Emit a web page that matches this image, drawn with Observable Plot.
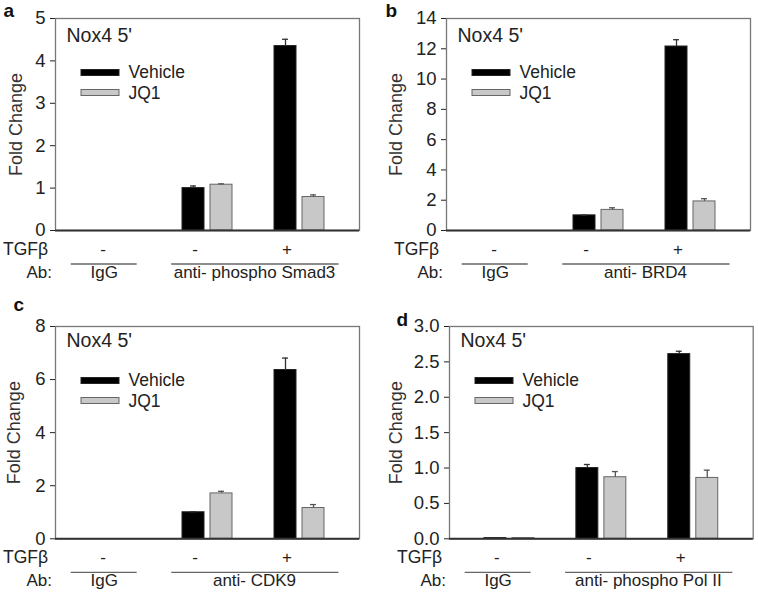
<!DOCTYPE html>
<html><head><meta charset="utf-8">
<script src="https://cdn.jsdelivr.net/npm/d3@7"></script>
<script src="https://cdn.jsdelivr.net/npm/@observablehq/plot@0.6"></script>
<style>
body{margin:0;background:#fff;}
#wrap{position:relative;width:758px;height:595px;overflow:hidden;background:#fff;}
#wrap > svg{position:absolute;}
</style></head><body><div id="wrap"></div>
<script>
// ---- data ----
const groups = ["IgG", "Ab TGF-", "Ab TGF+"];
const tgfSigns = ["-", "-", "+"];
const seriesNames = ["Vehicle", "JQ1"];
const titleText = "Nox4 5'";
const yLabel = "Fold Change";
const rowLabels = ["TGFβ", "Ab:"];

const abA = ["IgG", "anti- phospho Smad3"];
const abB = ["IgG", "anti- BRD4"];
const abC = ["IgG", "anti- CDK9"];
const abD = ["IgG", "anti- phospho Pol II"];

const vehicleA = [0, 1.00, 4.35];
const vehicleErrA = [0, 0.05, 0.16];
const jq1A = [0, 1.08, 0.79];
const jq1ErrA = [0, 0.02, 0.05];

const vehicleB = [0, 1.00, 12.15];
const vehicleErrB = [0, 0.02, 0.45];
const jq1B = [0, 1.36, 1.92];
const jq1ErrB = [0, 0.14, 0.18];

const vehicleC = [0, 1.00, 6.36];
const vehicleErrC = [0, 0.02, 0.45];
const jq1C = [0, 1.71, 1.16];
const jq1ErrC = [0, 0.08, 0.13];

const vehicleD = [0.01, 1.00, 2.61];
const vehicleErrD = [0, 0.05, 0.04];
const jq1D = [0.01, 0.87, 0.86];
const jq1ErrD = [0, 0.08, 0.11];

const yTicksA = [0, 1, 2, 3, 4, 5];
const yTicksB = [0, 2, 4, 6, 8, 10, 12, 14];
const yTicksC = [0, 2, 4, 6, 8];
const yTicksD = [0, 0.5, 1.0, 1.5, 2.0, 2.5, 3.0];

// ---- layout ----
const FONT = '"Liberation Sans", Arial, sans-serif';
const panels = [
  {letter: "a", ab: abA, veh: vehicleA, vehErr: vehicleErrA, jq: jq1A, jqErr: jq1ErrA, ticks: yTicksA, fmt: d3.format("d"),
   left: 0, top: 0, width: 379, height: 300, mL: 55, mR: 20, mT: 18, mB: 70, lx: 3, ly: 16, labDx: -39, titleDy: 23},
  {letter: "b", ab: abB, veh: vehicleB, vehErr: vehicleErrB, jq: jq1B, jqErr: jq1ErrB, ticks: yTicksB, fmt: d3.format("d"),
   left: 379, top: 0, width: 379, height: 300, mL: 67, mR: 8, mT: 18, mB: 70, lx: 6, ly: 16, labDx: -50, titleDy: 23},
  {letter: "c", ab: abC, veh: vehicleC, vehErr: vehicleErrC, jq: jq1C, jqErr: jq1ErrC, ticks: yTicksC, fmt: d3.format("d"),
   left: 0, top: 300, width: 379, height: 295, mL: 55, mR: 20, mT: 26, mB: 56.7, lx: 13, ly: 10, labDx: -41, titleDy: 20},
  {letter: "d", ab: abD, veh: vehicleD, vehErr: vehicleErrD, jq: jq1D, jqErr: jq1ErrD, ticks: yTicksD, fmt: d3.format(".1f"),
   left: 379, top: 300, width: 379, height: 295, mL: 70, mR: 5.3, mT: 26, mB: 56.7, lx: 17, ly: 25, labDx: -53.5, titleDy: 20}
];

function legendMark(cfg) {
  return () => {
    const g = d3.create("svg:g").attr("text-anchor", "start");
    const sx = cfg.mL + 26, sy = cfg.mT + 51.5;
    g.append("rect").attr("x", sx).attr("y", sy).attr("width", 38).attr("height", 6)
      .attr("fill", "#000").attr("stroke", "#222");
    g.append("rect").attr("x", sx).attr("y", sy + 20).attr("width", 38).attr("height", 6)
      .attr("fill", "#c8c8c8").attr("stroke", "#666");
    g.append("text").attr("x", cfg.mL + 73.5).attr("y", cfg.mT + 60).text(seriesNames[0])
      .attr("font-size", 17.5).attr("fill", "#222");
    g.append("text").attr("x", cfg.mL + 73.5).attr("y", cfg.mT + 80.5).text(seriesNames[1])
      .attr("font-size", 17.5).attr("fill", "#222");
    return g.node();
  };
}

const wrap = document.getElementById("wrap");
for (const cfg of panels) {
  const veh = groups.map((g, i) => ({group: g, value: cfg.veh[i], err: cfg.vehErr[i]}));
  const jq = groups.map((g, i) => ({group: g, value: cfg.jq[i], err: cfg.jqErr[i]}));
  const signs = groups.map((g, i) => ({group: g, sign: tgfSigns[i]}));
  const abRows = [{group: groups[0], label: cfg.ab[0]}, {group: groups[1], label: cfg.ab[1]}];
  const ymax = cfg.ticks[cfg.ticks.length - 1];

  const chart = Plot.plot({
    width: cfg.width, height: cfg.height,
    marginLeft: cfg.mL, marginRight: cfg.mR, marginTop: cfg.mT, marginBottom: cfg.mB,
    style: {fontFamily: FONT, fontSize: "18.5px", color: "#222", background: "transparent", overflow: "visible"},
    x: {type: "band", domain: groups, paddingInner: 0.4565, paddingOuter: 0.3804, round: false, axis: null},
    y: {domain: [0, ymax], ticks: cfg.ticks, tickFormat: cfg.fmt, tickSize: 5, tickPadding: 5, label: null},
    marks: [
      Plot.frame({stroke: "#777", strokeWidth: 1.3}),
      Plot.barY(veh, {x: "group", y: "value", fill: "#000", stroke: "#222", strokeWidth: 1, insetRight: 28}),
      Plot.barY(jq, {x: "group", y: "value", fill: "#c8c8c8", stroke: "#666", strokeWidth: 1, insetLeft: 28}),
      Plot.ruleX(veh.filter(d => d.err > 0), {x: "group", y1: "value", y2: d => d.value + d.err, dx: -14, stroke: "#333", strokeWidth: 1.3}),
      Plot.tickY(veh.filter(d => d.err > 0), {x: "group", y: d => d.value + d.err, insetLeft: 8, insetRight: 36, stroke: "#333", strokeWidth: 1.3}),
      Plot.ruleX(jq.filter(d => d.err > 0), {x: "group", y1: "value", y2: d => d.value + d.err, dx: 14, stroke: "#555", strokeWidth: 1.3}),
      Plot.tickY(jq.filter(d => d.err > 0), {x: "group", y: d => d.value + d.err, insetLeft: 36, insetRight: 8, stroke: "#555", strokeWidth: 1.3}),
      Plot.ruleY([0], {stroke: "#333", strokeWidth: 2}),
      Plot.text([titleText], {text: d => d, frameAnchor: "top-left", dx: 11, dy: cfg.titleDy, textAnchor: "start", lineAnchor: "bottom", fontSize: 19.5, fill: "#222"}),
      legendMark(cfg),
      Plot.text([yLabel], {text: d => d, frameAnchor: "left", textAnchor: "middle", rotate: -90, dx: cfg.labDx, fontSize: 18, fill: "#333"}),
      Plot.text([cfg.letter], {text: d => d, frameAnchor: "top-left", dx: cfg.lx - cfg.mL, dy: cfg.ly - cfg.mT, textAnchor: "start", lineAnchor: "bottom", fontSize: 19, fontWeight: "bold", fill: "#111"}),
      Plot.text(signs, {x: "group", text: "sign", frameAnchor: "bottom", dx: -12.5, dy: 24, lineAnchor: "bottom", fontSize: 17, fill: "#222"}),
      Plot.text([rowLabels[0]], {text: d => d, frameAnchor: "bottom-left", dx: -52.5, dy: 24, textAnchor: "start", lineAnchor: "bottom", fontSize: 17.5, fill: "#222"}),
      Plot.text([rowLabels[1]], {text: d => d, frameAnchor: "bottom-left", dx: -29, dy: 47, textAnchor: "start", lineAnchor: "bottom", fontSize: 17, fill: "#222"}),
      Plot.tickY([abRows[0]], {x: "group", y: () => 0, dy: 33.5, insetLeft: -19.3, insetRight: 3.3, stroke: "#666", strokeWidth: 1.3}),
      Plot.tickY([abRows[1]], {x: "group", y: () => 0, dy: 33.5, insetLeft: -10.8, insetRight: -106.5, stroke: "#666", strokeWidth: 1.3}),
      Plot.text([abRows[0]], {x: "group", text: "label", frameAnchor: "bottom", dx: -11.3, dy: 47, lineAnchor: "bottom", fontSize: 17, fill: "#222"}),
      Plot.text([abRows[1]], {x: "group", text: "label", frameAnchor: "bottom", dx: 47, dy: 47, lineAnchor: "bottom", fontSize: 17, fill: "#222"})
    ]
  });
  chart.style.left = cfg.left + "px";
  chart.style.top = cfg.top + "px";
  wrap.appendChild(chart);
}
</script></body></html>
